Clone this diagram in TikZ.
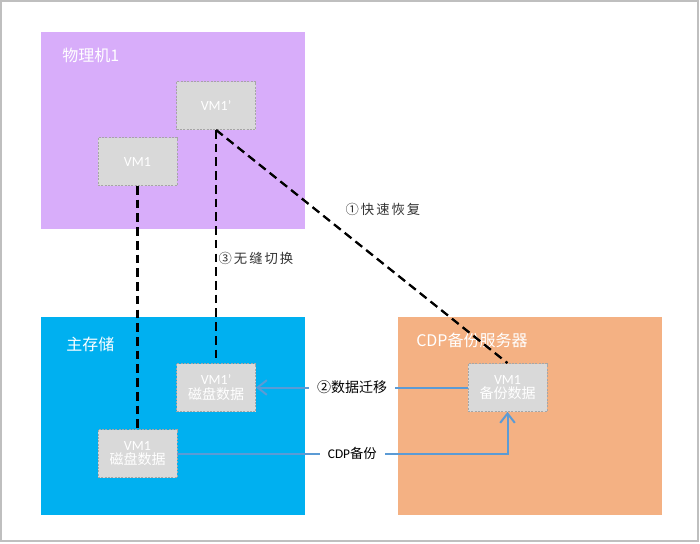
\documentclass[tikz,border=0pt]{standalone}
\usepackage{fontspec}
\setmainfont{Carlito}
\newfontfamily\cjk{Noto Sans CJK SC}
\usetikzlibrary{arrows.meta}
\definecolor{purp}{HTML}{D8ADFA}
\definecolor{cyanb}{HTML}{00B0F0}
\definecolor{orng}{HTML}{F4B183}
\definecolor{grayb}{HTML}{D9D9D9}
\definecolor{grayline}{HTML}{A6A6A6}
\definecolor{bluel}{HTML}{5B9BD5}
\definecolor{framec}{HTML}{BFBFBF}
\definecolor{txtd}{HTML}{333333}
\begin{document}
\begin{tikzpicture}[x=0.75pt,y=-0.75pt,
  container/.style={draw=none, anchor=north west, minimum width=198pt, inner sep=0pt},
  ctitle/.style={anchor=west, text=white, font=\cjk\fontsize{12}{14}\selectfont, inner sep=0pt},
  vmbox/.style={draw=grayline, dashed, dash pattern=on 1.5pt off 1pt, line width=0.6pt, fill=grayb,
     minimum width=59.25pt, minimum height=36pt, inner sep=0pt, align=center, text=white,
     font=\fontsize{10.5}{12}\selectfont},
  blk/.style={draw=black, line width=1.7pt, dash pattern=on 6.5pt off 3.8pt},
  bl/.style={draw=bluel, line width=1.5pt},
  lab/.style={text=txtd, font=\cjk\fontsize{10}{12}\selectfont, inner sep=1pt},
  wlab/.style={text=black, font=\fontsize{10}{12}\selectfont, fill=white, inner sep=0pt, inner xsep=6pt, minimum height=12pt}
]
\useasboundingbox (0,0) rectangle (700,543);
\draw[framec, line width=1pt] (1,1) rectangle (698,541);

% containers
\node[container, fill=purp, minimum height=147.75pt] (pm) at (41,32) {};
\node[container, fill=cyanb, minimum height=148.5pt] (ms) at (41,317) {};
\node[container, fill=orng, minimum height=148.5pt] (cdp) at (398,317) {};

\node[ctitle] (tpm) at (62,55) {物理机1};
\node[ctitle] (tms) at (66,344) {主存储};
\node[ctitle] (tcdp) at (416,340) {CDP{\cjk 备份服务器}};

% vm boxes
\node[vmbox] (vmp) at (216,105.5) {VM1’};
\node[vmbox] (vm) at (137.5,161.5) {VM1};
\node[vmbox] (dp) at (216,387.5) {VM1’\\[-1pt]{\cjk 磁盘数据}};
\node[vmbox] (d) at (137.5,453.5) {VM1\\[-1pt]{\cjk 磁盘数据}};
\node[vmbox] (bk) at (507.5,387.5) {VM1\\[-1pt]{\cjk 备份数据}};

% dashed links
\draw[blk] (vm.south) -- (d.north);
\draw[blk] (vmp.south) -- (dp.north);
\draw[blk] (vmp.south) -- (bk.north);

\node[lab, anchor=west] (l1) at (344,209) {①\hspace{1.5pt}快\hspace{1.5pt}速\hspace{1.5pt}恢\hspace{1.5pt}复};
\node[lab, anchor=west] (l3) at (217,258) {③\hspace{1.5pt}无\hspace{1.5pt}缝\hspace{1.5pt}切\hspace{1.5pt}换};

% blue arrows
\draw[bl, -{Straight Barb[length=7pt, width=11pt, line width=1.5pt]}] (bk.west) -- node[wlab, pos=0.545, font=\cjk\fontsize{10.5}{12}\selectfont] (l2) {②数据迁移} (dp.east);
\coordinate (corner) at (bk.south |- d.east);
\draw[bl, -{Straight Barb[length=7pt, width=11pt, line width=1.5pt]}] (d.east) -- node[wlab, pos=0.53] (lc) {CDP{\cjk 备份}} (corner) -- (bk.south);
\end{tikzpicture}
\end{document}
